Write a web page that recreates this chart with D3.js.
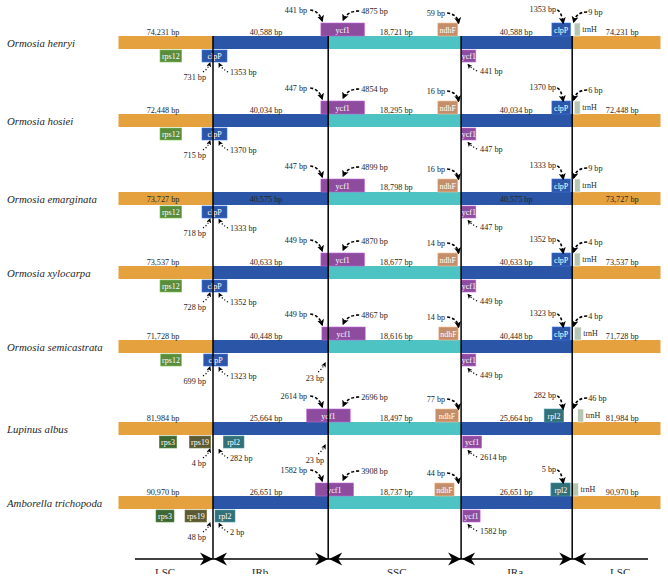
<!DOCTYPE html>
<html>
<head>
<meta charset="utf-8">
<script src="https://cdn.jsdelivr.net/npm/d3@7/dist/d3.min.js"></script>
<style>
  html, body { margin: 0; padding: 0; background: #fff; }
  svg { display: block; }
  text { font-family: "Liberation Serif", "Times New Roman", serif; }
</style>
</head>
<body>
<svg id="chart" width="668" height="580"></svg>
<script>
// ---------------- DATA ----------------
const species = ["Ormosia henryi", "Ormosia hosiei", "Ormosia emarginata", "Ormosia xylocarpa",
                 "Ormosia semicastrata", "Lupinus albus", "Amborella trichopoda"];
const lscLength = [74231, 72448, 73727, 73537, 71728, 81984, 90970];
const irLength  = [40588, 40034, 40575, 40633, 40448, 25664, 26651];
const sscLength = [18721, 18295, 18798, 18677, 18616, 18497, 18737];
const regionNames = ["LSC", "IRb", "SSC", "IRa", "LSC"];

// distances (bp) annotated at the junctions
const bpJSBleft  = [441, 447, 447, 449, 449, 2614, 1582];
const bpJSBright = [4875, 4854, 4899, 4870, 4867, 2696, 3908];
const bpJSAleft  = [59, 16, 16, 14, 14, 77, 44];
const bpJLAleft  = [1353, 1370, 1333, 1352, 1323, 282, 5];
const bpJLAright = [9, 6, 9, 4, 4, 46, null];
const bpJLBleft  = [731, 715, 718, 728, 699, 4, 48];
const bpJLBright = [1353, 1370, 1333, 1352, 1323, 282, 2];
const bpJSBbelow = [null, null, null, null, 23, 23, null];
const bpJSAright = [441, 447, 447, 449, 449, 2614, 1582];

// genes: row, name, side, junction index (0 JLB,1 JSB,2 JSA,3 JLA), schematic extent relative to junction
const genes = [
  // Ormosia henryi
  {row:0, gene:"ycf1", side:"top", j:1, s:-7.3, e:36.3},
  {row:0, gene:"ndhF", side:"top", j:2, s:-23.3, e:-3.3},
  {row:0, gene:"clpP", side:"top", j:3, s:-20.3, e:-1.7},
  {row:0, gene:"trnH", side:"top", j:3, s:2, e:8},
  {row:0, gene:"rps12", side:"bottom", j:0, s:-53, e:-31.3},
  {row:0, gene:"clpP", side:"bottom", j:0, s:-11, e:14},
  {row:0, gene:"ycf1", side:"bottom", j:2, s:0.7, e:14.7},
  // Ormosia hosiei
  {row:1, gene:"ycf1", side:"top", j:1, s:-7.3, e:36.3},
  {row:1, gene:"ndhF", side:"top", j:2, s:-23.3, e:-3.3},
  {row:1, gene:"clpP", side:"top", j:3, s:-20.3, e:-1.7},
  {row:1, gene:"trnH", side:"top", j:3, s:2, e:8},
  {row:1, gene:"rps12", side:"bottom", j:0, s:-53, e:-31.3},
  {row:1, gene:"clpP", side:"bottom", j:0, s:-11, e:14},
  {row:1, gene:"ycf1", side:"bottom", j:2, s:0.7, e:14.7},
  // Ormosia emarginata
  {row:2, gene:"ycf1", side:"top", j:1, s:-7.3, e:36.3},
  {row:2, gene:"ndhF", side:"top", j:2, s:-23.3, e:-3.3},
  {row:2, gene:"clpP", side:"top", j:3, s:-20.3, e:-1.7},
  {row:2, gene:"trnH", side:"top", j:3, s:2.5, e:8},
  {row:2, gene:"rps12", side:"bottom", j:0, s:-53, e:-31.3},
  {row:2, gene:"clpP", side:"bottom", j:0, s:-11, e:14},
  {row:2, gene:"ycf1", side:"bottom", j:2, s:0.7, e:14.7},
  // Ormosia xylocarpa
  {row:3, gene:"ycf1", side:"top", j:1, s:-7.3, e:36.3},
  {row:3, gene:"ndhF", side:"top", j:2, s:-23.3, e:-3.3},
  {row:3, gene:"clpP", side:"top", j:3, s:-20.3, e:-1.7},
  {row:3, gene:"trnH", side:"top", j:3, s:2, e:8},
  {row:3, gene:"rps12", side:"bottom", j:0, s:-53, e:-31.3},
  {row:3, gene:"clpP", side:"bottom", j:0, s:-11, e:14},
  {row:3, gene:"ycf1", side:"bottom", j:2, s:0.7, e:14.7},
  // Ormosia semicastrata
  {row:4, gene:"ycf1", side:"top", j:1, s:-6.3, e:37},
  {row:4, gene:"ndhF", side:"top", j:2, s:-22.3, e:-3},
  {row:4, gene:"clpP", side:"top", j:3, s:-20, e:-2},
  {row:4, gene:"trnH", side:"top", j:3, s:2, e:9},
  {row:4, gene:"rps12", side:"bottom", j:0, s:-52.3, e:-31.7},
  {row:4, gene:"clpP", side:"bottom", j:0, s:-9.3, e:14.7},
  {row:4, gene:"ycf1", side:"bottom", j:2, s:0.7, e:14.7},
  // Lupinus albus
  {row:5, gene:"ycf1", side:"top", j:1, s:-21.5, e:22},
  {row:5, gene:"ndhF", side:"top", j:2, s:-25.7, e:-2.7},
  {row:5, gene:"rpl2", side:"top", j:3, s:-28, e:-8.5},
  {row:5, gene:"trnH", side:"top", j:3, s:5.5, e:11.5},
  {row:5, gene:"rps3", side:"bottom", j:0, s:-53.7, e:-36.3},
  {row:5, gene:"rps19", side:"bottom", j:0, s:-23.7, e:-2.3},
  {row:5, gene:"rpl2", side:"bottom", j:0, s:10.3, e:31},
  {row:5, gene:"ycf1", side:"bottom", j:2, s:1.5, e:20.5},
  // Amborella trichopoda
  {row:6, gene:"ycf1", side:"top", j:1, s:-13, e:25.3},
  {row:6, gene:"ndhF", side:"top", j:2, s:-26.3, e:-7},
  {row:6, gene:"rpl2", side:"top", j:3, s:-21.3, e:-1.3},
  {row:6, gene:"trnH", side:"top", j:3, s:-1.3, e:6.3},
  {row:6, gene:"rps3", side:"bottom", j:0, s:-57, e:-39},
  {row:6, gene:"rps19", side:"bottom", j:0, s:-28, e:-6.3},
  {row:6, gene:"rpl2", side:"bottom", j:0, s:2, e:22},
  {row:6, gene:"ycf1", side:"bottom", j:2, s:1.7, e:19}
];

// ---------------- LAYOUT / STYLE ----------------
const svg = d3.select("#chart");
const x = d3.scaleLinear().domain([0, 542]).range([118.5, 660.5]);
const junctionAt = [94.5, 209.7, 342.6, 453.7];          // schematic positions of JLB, JSB, JSA, JLA
const J = junctionAt.map(v => x(v));
const rowTop = d3.scaleOrdinal().domain(species).range([36, 114, 192, 266, 340, 422, 496]);
const barH = 13, boxH = 13, boxHb = 12;
const labelsInside = [false, false, true, false, false, false, false];
const fmt = d3.format(",");
const textCol = "#262626";

const regionColor = ["#E4A13E", "#2B55A6", "#4EC3C4", "#2B55A6", "#E4A13E"];
const geneColor = {ycf1:"#8D4C9E", ndhF:"#C48E6B", clpP:"#2C56A8", rps12:"#5A8C3C",
                   trnH:"#B6C6B3", rpl2:"#32707A", rps3:"#3F6733", rps19:"#5B5A34"};

// defs: arrowheads + clip for bottom labels (cut by the figure edge)
const defs = svg.append("defs");
function marker(id, size) {
  defs.append("marker").attr("id", id)
    .attr("viewBox", "0 0 10 10").attr("refX", 8).attr("refY", 5)
    .attr("markerWidth", size).attr("markerHeight", size)
    .attr("markerUnits", "userSpaceOnUse").attr("orient", "auto")
    .append("path").attr("d", "M0,0 L10,5 L0,10 L2.5,5 Z").attr("fill", "#000");
}
marker("ahTop", 7);
marker("ahBot", 5);
defs.append("clipPath").attr("id", "cutBottom")
  .append("rect").attr("x", 0).attr("y", 0).attr("width", 668).attr("height", 574);

// ---------------- BARS ----------------
const segBounds = [x(0), J[0], J[1], J[2], J[3], x(542)];
species.forEach((sp, i) => {
  const y0 = rowTop(sp);
  const g = svg.append("g").attr("class", "row");
  d3.range(5).forEach(k => {
    g.append("rect")
      .attr("x", segBounds[k]).attr("y", y0)
      .attr("width", segBounds[k + 1] - segBounds[k]).attr("height", barH)
      .attr("fill", regionColor[k]);
  });
  g.append("text").attr("x", 7).attr("y", y0 + barH / 2 + 4)
    .attr("font-size", 10.8).attr("font-style", "italic").attr("fill", textCol)
    .text(sp);
  const lens = [lscLength[i], irLength[i], sscLength[i], irLength[i], lscLength[i]];
  const cx = [J[0] - 50, J[0] + 53, J[1] + 68, J[2] + 55, J[3] + 50];
  lens.forEach((v, k) => {
    const inside = labelsInside[i] && k !== 2;
    let yy = inside ? y0 + 10 : y0 - 1;
    if (labelsInside[i] && k === 2) yy = y0 - 2.5;
    g.append("text").attr("x", cx[k]).attr("y", yy)
      .attr("text-anchor", "middle").attr("font-size", 8.2).attr("fill", textCol)
      .text(fmt(v) + " bp");
  });
});

// ---------------- GENES ----------------
genes.forEach(d => {
  const y0 = rowTop(species[d.row]);
  const gx0 = x(junctionAt[d.j] + d.s), gx1 = x(junctionAt[d.j] + d.e);
  const gy = d.side === "top" ? y0 - boxH : y0 + barH + 1;
  const h = d.side === "top" ? boxH : boxHb;
  const col = geneColor[d.gene];
  svg.append("rect").attr("x", gx0).attr("y", gy)
    .attr("width", gx1 - gx0).attr("height", h)
    .attr("fill", col)
    .attr("stroke", d3.color(col).brighter(0.9)).attr("stroke-width", 0.6);
  if (d.gene === "trnH") {
    svg.append("text").attr("x", gx1 + 2).attr("y", y0 - 4)
      .attr("font-size", 8).attr("fill", textCol).text(d.gene);
  } else {
    svg.append("text").attr("x", (gx0 + gx1) / 2).attr("y", gy + h / 2 + 3)
      .attr("text-anchor", "middle").attr("font-size", 8).attr("fill", "#fff")
      .text(d.gene);
  }
});

// ---------------- JUNCTION LINES & AXIS ----------------
const axisY = 559;
J.forEach(jx => {
  svg.append("line").attr("x1", jx).attr("x2", jx)
    .attr("y1", rowTop(species[0])).attr("y2", axisY)
    .attr("stroke", "#000").attr("stroke-width", 1.5);
});
svg.append("line").attr("x1", 135).attr("x2", 648).attr("y1", axisY).attr("y2", axisY)
  .attr("stroke", "#000").attr("stroke-width", 1.5);
J.forEach(jx => {
  svg.append("path")
    .attr("d", `M${jx},${axisY} L${jx - 13},${axisY - 6.5} L${jx - 9},${axisY} L${jx - 13},${axisY + 6.5} Z`)
    .attr("fill", "#000");
  svg.append("path")
    .attr("d", `M${jx + 1},${axisY} L${jx + 14},${axisY - 6.5} L${jx + 10},${axisY} L${jx + 14},${axisY + 6.5} Z`)
    .attr("fill", "#000");
});
const axisLabelX = [J[0] - 48, J[0] + 47, J[1] + 68.5, J[2] + 54, J[3] + 48];
const axisLabels = svg.append("g").attr("clip-path", "url(#cutBottom)");
regionNames.forEach((r, k) => {
  axisLabels.append("text").attr("x", axisLabelX[k]).attr("y", 576)
    .attr("text-anchor", "middle").attr("font-size", 11).attr("fill", textCol).text(r);
});

// ---------------- ANNOTATIONS ----------------
const annoKinds = [
  {vals: bpJSBleft,  j:1, side:"top",    anchor:"end",   tx:-21, ty:-23, p:[[-18,-26],[-9,-25],[-6,-15]]},
  {vals: bpJSBright, j:1, side:"top",    anchor:"start", tx:33,  ty:-22, p:[[31,-25],[19,-25],[15,-16]]},
  {vals: bpJSAleft,  j:2, side:"top",    anchor:"end",   tx:-16, ty:-20, p:[[-14,-23],[-4,-22],[-2.5,-13]]},
  {vals: bpJLAleft,  j:3, side:"top",    anchor:"end",   tx:-16, ty:-24, p:[[-15,-26],[-11,-25],[-9,-13]]},
  {vals: bpJLAright, j:3, side:"top",    anchor:"start", tx:16,  ty:-21, p:[[15,-24],[4,-24],[1.5,-14]]},
  {vals: bpJLBleft,  j:0, side:"bottom", anchor:"end",   tx:-7,  ty:31,  p:[[-10,23],[-5,20],[-3,14]]},
  {vals: bpJLBright, j:0, side:"bottom", anchor:"start", tx:17,  ty:26,  p:[[15,23],[9,20],[6,14.5]]},
  {vals: bpJSBbelow, j:1, side:"bottom", anchor:"end",   tx:-4,  ty:28,  p:[[-10,19],[-6,16],[-3,10]]},
  {vals: bpJSAright, j:2, side:"bottom", anchor:"start", tx:19,  ty:25,  p:[[16,22],[10,19],[7,15.5]]}
];
annoKinds.forEach(k => {
  k.vals.forEach((v, i) => {
    if (v == null) return;
    const y0 = rowTop(species[i]);
    const yRef = k.side === "top" ? y0 : y0 + barH;
    const jx = J[k.j];
    svg.append("text").attr("x", jx + k.tx).attr("y", yRef + k.ty)
      .attr("text-anchor", k.anchor).attr("font-size", 8.2).attr("fill", textCol)
      .text(v + " bp");
    const [p0, p1, p2] = k.p;
    const top = k.side === "top";
    svg.append("path")
      .attr("d", `M${jx + p0[0]},${yRef + p0[1]} Q${jx + p1[0]},${yRef + p1[1]} ${jx + p2[0]},${yRef + p2[1]}`)
      .attr("fill", "none").attr("stroke", "#000")
      .attr("stroke-width", top ? 1.6 : 1.2)
      .attr("stroke-dasharray", top ? "3,2" : "1.2,2")
      .attr("marker-end", top ? "url(#ahTop)" : "url(#ahBot)");
  });
});
</script>
</body>
</html>
